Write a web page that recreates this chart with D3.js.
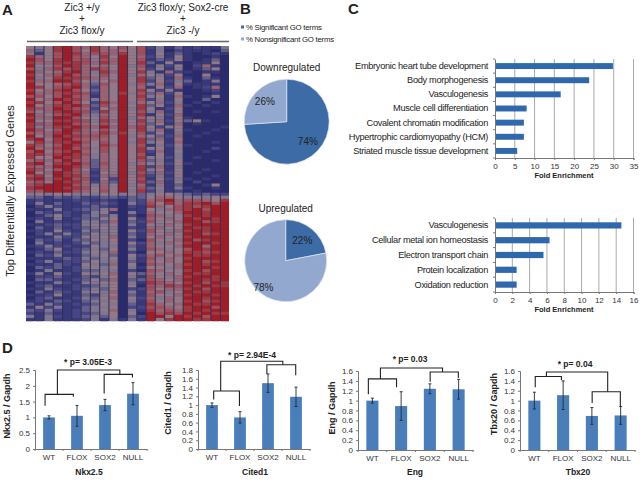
<!DOCTYPE html>
<html>
<head>
<meta charset="utf-8">
<script src="https://cdnjs.cloudflare.com/ajax/libs/d3/7.8.5/d3.min.js"></script>
<style>
  html, body { margin: 0; padding: 0; background: #fff; }
  svg { display: block; }
  text { font-family: "Liberation Sans", Arial, sans-serif; fill: #222; }
  .axis path, .axis line { stroke: #777; }
  .axis text { fill: #333; }
</style>
</head>
<body>
<svg width="640" height="480"></svg>
<script>
// heatmap, one string per gene, one digit per sample (0 = low, 9 = high)
var heatRows = [
  "5458976865757 2413 12114","6358975866657 1402 11103","4157986776857 1513 10121",
  "8657976585956 2415 10010","9758977476957 1325 10130","8668887686958 3151 01150",
  "9557986565947 1425 02610","7468786875956 2514 01350","9656896486958 4162 10110",
  "8567976575946 5425 00500","9458887665958 3516 10310","8669975456958 2524 30140",
  "9556786375947 4615 11110","9857896265956 1526 01260","8568975365958 5241 00120",
  "9667887265847 3625 00010","7757976165958 4516 10150","9569886465957 2415 00300",
  "8857975286946 5624 01010","9568897375958 3516 10100","8769876256948 5125 00000",
  "7568987385957 4615 01010","9657896465958 1526 00000","8669975575946 5415 10000",
  "9558887486958 4625 35100","8769976575957 3516 01000","8468897696968 5245 00001",
  "9757986575958 4615 10010","7668976686857 2514 00100","9569887775946 5326 01000",
  "8958976665958 3615 00000","5868897575948 4516 00010","8757986586957 1425 10000",
  "9668977475958 5514 00020","7957896575958 2615 00100","8868987465957 1514 00000",
  "8559886465958 4524 01000","6767976365957 3415 00010","8958897375946 5525 10000",
  "7669986365958 2614 00000","8757975265958 4515 00100","9569876154947 3625 01000",
  "7859886266958 2415 00010","8968977152957 1524 10100","6759886263958 3615 02000",
  "7899976465946 1413 00150","8999887565957 3514 10010","7799976575948 2412 01000",
  "4545545455453 4554 32322","3313232233233 5665 44454","1211122121032 6796 77658",
  "1413113232042 7586 88979","0242112321021 8657 87899","1114123346011 5467 89799",
  "0322212451041 6556 99899","0135213434020 7645 89899","1214123355051 6565 98989",
  "0412114436032 7556 99789","1123224545041 5465 89999","0313123454021 6655 98899",
  "1215214345052 7546 89899","0242423544031 6565 99789","1114225456041 5655 89999",
  "0323133545020 7556 97899","0412124345052 6465 89989","1242212544031 6556 99699",
  "0135123435041 7645 79899","1213224546020 5565 88789","0324113453052 6756 98899",
  "1112324345041 7465 89999","0241223544031 6565 99789","1113215436050 7656 89899",
  "0323124545041 5546 99989","0141123344020 7655 89799","1415215456053 6565 98899",
  "0223113245041 7546 89989","0332123536033 7656 99889","1114214455041 8765 89798",
  "0231122345050 7687 98988","1142123435022 7566 89799","0313214546041 6745 98899",
  "1125113245031 7556 89989","0231124356052 6465 99899","1213213445041 7565 89789",
  "3142122354031 8656 98899","1524113445022 7765 89979","3242123456041 8676 89899",
  "2131122345050 9787 98988","4142123435032 9959 89799","1141112414141 9589 98899"
];

var pieNames = ["Downregulated", "Upregulated"];
var pieSeries = ["% Significant GO terms", "% Nonsignificant GO terms"];
var downValues = [74, 26];
var upValues = [22, 78];

var goDownTerms = ["Embryonic heart tube development", "Body morphogenesis", "Vasculogenesis",
  "Muscle cell differentiation", "Covalent chromatin modification",
  "Hypertrophic cardiomyopathy (HCM)", "Striated muscle tissue development"];
var goDownValues = [29.8, 23.8, 16.6, 8, 7.3, 7.3, 5.6];
var goDownTicks = [0, 5, 10, 15, 20, 25, 30, 35];

var goUpTerms = ["Vasculogenesis", "Cellular metal ion homeostasis", "Electron transport chain",
  "Protein localization", "Oxidation reduction"];
var goUpValues = [14.6, 6.3, 5.6, 2.5, 2.5];
var goUpTicks = [0, 2, 4, 6, 8, 10, 12, 14, 16];

var genotypes = ["WT", "FLOX", "SOX2", "NULL"];

var nkxValues = [1, 1.05, 1.39, 1.75];
var nkxErrors = [0.05, 0.33, 0.18, 0.35];
var nkxTicks = [0, 0.5, 1, 1.5, 2, 2.5];
// brackets are [sample index, expression] polylines
var nkxBrackets = [
  [[-0.14, 1.37], [-0.14, 1.73], [0.87, 1.73], [0.87, 1.65]],
  [[0.3, 1.73], [0.3, 2.5], [2.53, 2.5], [2.53, 2.37]],
  [[1.97, 1.76], [1.97, 2.36], [2.98, 2.36], [2.98, 2.26]]
];

var citedValues = [1, 0.72, 1.5, 1.19];
var citedErrors = [0.05, 0.13, 0.21, 0.22];
var citedTicks = [0, 0.2, 0.4, 0.6, 0.8, 1, 1.2, 1.4, 1.6, 1.8];
var citedBrackets = [
  [[0.06, 1.13], [0.06, 1.32], [0.98, 1.32], [0.98, 0.98]],
  [[0.31, 1.32], [0.31, 2], [2.53, 2], [2.53, 1.92]],
  [[1.96, 1.71], [1.96, 1.92], [2.99, 1.92], [2.99, 1.68]]
];

var engValues = [1, 0.89, 1.24, 1.23];
var engErrors = [0.05, 0.29, 0.1, 0.2];
var engTicks = [0, 0.2, 0.4, 0.6, 0.8, 1, 1.2, 1.4, 1.6];
var engBrackets = [
  [[-0.14, 1.13], [-0.14, 1.44], [0.84, 1.44], [0.84, 1.27]],
  [[0.28, 1.44], [0.28, 1.66], [2.44, 1.66], [2.44, 1.58]],
  [[2.01, 1.38], [2.01, 1.58], [2.99, 1.58], [2.99, 1.46]]
];

var tbxValues = [1, 1.11, 0.69, 0.7];
var tbxErrors = [0.17, 0.29, 0.17, 0.18];
var tbxTicks = [0, 0.2, 0.4, 0.6, 0.8, 1, 1.2, 1.4, 1.6];
var tbxBrackets = [
  [[0.03, 1.27], [0.03, 1.49], [0.94, 1.49], [0.94, 1.42]],
  [[0.42, 1.49], [0.42, 1.58], [2.55, 1.58], [2.55, 1.18]],
  [[2.01, 0.95], [2.01, 1.18], [2.99, 1.18], [2.99, 0.89]]
];

var svg = d3.select("svg");

function addText(x, y, str, size, weight, anchor) {
  return svg.append("text")
    .attr("x", x)
    .attr("y", y)
    .attr("font-size", size)
    .attr("font-weight", weight || "normal")
    .attr("text-anchor", anchor || "middle")
    .text(str);
}

function addVertical(x, y, str, size, weight) {
  return svg.append("text")
    .attr("transform", "translate(" + x + "," + y + ") rotate(-90)")
    .attr("font-size", size)
    .attr("font-weight", weight || "normal")
    .attr("text-anchor", "middle")
    .text(str);
}

// panel letters
addText(2, 15, "A", 15, "bold", "start");
addText(240, 14, "B", 15, "bold", "start");
addText(348, 14, "C", 15, "bold", "start");
addText(2, 353, "D", 15, "bold", "start");

//Panel A
function drawHeatmap() {
  var rows = heatRows.map(function(r) { return r.replace(/ /g, "").split(""); });
  var xscale = d3.scaleBand().domain(d3.range(22)).range([26, 229]).paddingInner(0.12);
  var yscale = d3.scaleBand().domain(d3.range(rows.length)).range([46, 321]);
  var color = d3.scaleLinear()
    .domain([0, 2, 4.5, 7, 9])
    .range(["#2b2a70", "#474585", "#8d8494", "#a04f5e", "#a01f28"]);

  svg.append("filter").attr("id", "soft")
    .append("feGaussianBlur").attr("stdDeviation", 0.35);

  var map = svg.append("g").attr("filter", "url(#soft)");

  map.append("rect")
    .attr("x", 26).attr("y", 46)
    .attr("width", 203).attr("height", 275)
    .attr("fill", "#33304e");

  rows.forEach(function(row, r) {
    map.append("g").selectAll("rect")
      .data(row)
      .enter()
      .append("rect")
      .attr("x", function(d, c) { return xscale(c); })
      .attr("y", yscale(r))
      .attr("width", xscale.bandwidth())
      .attr("height", yscale.bandwidth() + 0.3)
      .attr("fill", function(d) { return color(+d); });
  });

  addText(82, 11, "Zic3 +/y", 10);
  addText(82, 22, "+", 10);
  addText(82, 34, "Zic3 flox/y", 10);
  addText(183, 11, "Zic3 flox/y; Sox2-cre", 10);
  addText(183, 22, "+", 10);
  addText(183, 34, "Zic3 -/y", 10);

  svg.append("line").attr("x1", 27).attr("x2", 133).attr("y1", 41.5).attr("y2", 41.5)
    .attr("stroke", "#666").attr("stroke-width", 1.5);
  svg.append("line").attr("x1", 137).attr("x2", 229).attr("y1", 41.5).attr("y2", 41.5)
    .attr("stroke", "#666").attr("stroke-width", 1.5);

  addVertical(14, 191, "Top Differentially Expressed Genes", 11);
}

//Panel B
function drawPie(values, name, cx, cy, radius, titleY, labelRadii) {
  var pie = d3.pie().sort(null)(values);
  var arc = d3.arc().innerRadius(0).outerRadius(radius);
  var colors = ["#3c6ba6", "#92a8cf"];
  var g = svg.append("g").attr("transform", "translate(" + cx + "," + cy + ")");

  g.selectAll("path")
    .data(pie)
    .enter()
    .append("path")
    .attr("d", arc)
    .attr("fill", function(d, i) { return colors[i]; })
    .attr("stroke", "#dfe6f2")
    .attr("stroke-width", 0.7);

  g.selectAll("text")
    .data(pie)
    .enter()
    .append("text")
    .attr("transform", function(d, i) {
      var c = d3.arc().innerRadius(labelRadii[i]).outerRadius(labelRadii[i]).centroid(d);
      return "translate(" + c[0] + "," + (c[1] + 3.5) + ")";
    })
    .attr("text-anchor", "middle")
    .attr("font-size", 10)
    .text(function(d) { return d.data + "%"; });

  addText(cx, titleY, name, 10);
}

function drawPieLegend() {
  var colors = ["#3c6ba6", "#92a8cf"];
  pieSeries.forEach(function(s, i) {
    svg.append("rect")
      .attr("x", 241).attr("y", 25.5 + i * 12)
      .attr("width", 3).attr("height", 3)
      .attr("fill", colors[i]);
    addText(246, 30 + i * 12, s, 7.8, "normal", "start")
      .attr("letter-spacing", -0.25);
  });
}

//Panel C
function drawEnrichment(terms, values, ticks, top, bottom) {
  var left = 495, right = 633.5;
  var xscale = d3.scaleLinear().domain([ticks[0], ticks[ticks.length - 1]]).range([left, right]);
  var yscale = d3.scaleBand().domain(terms).range([top, bottom]).paddingInner(0.58).paddingOuter(0.29);

  svg.append("g").selectAll("line")
    .data(ticks.slice(1))
    .enter()
    .append("line")
    .attr("x1", function(d) { return xscale(d); })
    .attr("x2", function(d) { return xscale(d); })
    .attr("y1", top)
    .attr("y2", bottom)
    .attr("stroke", "#aaa");

  svg.append("g").selectAll("rect")
    .data(terms)
    .enter()
    .append("rect")
    .attr("x", left)
    .attr("y", function(d) { return yscale(d); })
    .attr("width", function(d, i) { return xscale(values[i]) - left; })
    .attr("height", yscale.bandwidth())
    .attr("fill", "#2f68ad");

  var xaxis = d3.axisBottom(xscale).tickValues(ticks).tickSize(2).tickFormat(d3.format("d"));
  var yaxis = d3.axisLeft(yscale).tickSize(0).tickPadding(7);

  svg.append("g")
    .attr("class", "axis")
    .attr("transform", "translate(0," + bottom + ")")
    .call(xaxis)
    .selectAll("text")
    .attr("font-size", 8);

  var ya = svg.append("g")
    .attr("class", "axis")
    .attr("transform", "translate(" + left + ",0)")
    .call(yaxis);
  ya.selectAll("text")
    .attr("font-size", 9.2)
    .attr("letter-spacing", -0.3)
    .style("fill", "#222");

  // ticks sit between the categories
  ya.selectAll(".edge")
    .data(d3.range(terms.length + 1))
    .enter()
    .append("line")
    .attr("class", "edge")
    .attr("x1", -2)
    .attr("x2", 0)
    .attr("y1", function(i) { return top + i * yscale.step(); })
    .attr("y2", function(i) { return top + i * yscale.step(); });

  addText(564, bottom + 20, "Fold Enrichment", 7.5, "bold");
}

//Panel D
function drawExpression(opts) {
  var xscale = d3.scaleBand().domain(genotypes).range([opts.left, opts.right]).paddingInner(0.58).paddingOuter(0.29);
  var yscale = d3.scaleLinear().domain([0, opts.ticks[opts.ticks.length - 1]]).range([opts.base, opts.top]);
  var bw = xscale.bandwidth();
  var step = xscale.step();
  // sample index to pixel, for the brackets
  var xpos = function(i) { return xscale(genotypes[0]) + bw / 2 + i * step; };

  svg.append("g").selectAll("rect")
    .data(genotypes)
    .enter()
    .append("rect")
    .attr("x", function(d) { return xscale(d); })
    .attr("y", function(d, i) { return yscale(opts.values[i]); })
    .attr("width", bw)
    .attr("height", function(d, i) { return opts.base - yscale(opts.values[i]); })
    .attr("fill", "#4a7ebb");

  svg.append("g").selectAll("path")
    .data(genotypes)
    .enter()
    .append("path")
    .attr("d", function(d, i) {
      var cx = xscale(d) + bw / 2;
      var hi = yscale(opts.values[i] + opts.errors[i]);
      var lo = yscale(opts.values[i] - opts.errors[i]);
      return "M" + (cx - 1.5) + "," + hi + "H" + (cx + 1.5) + "M" + cx + "," + hi + "V" + lo +
        "M" + (cx - 1.5) + "," + lo + "H" + (cx + 1.5);
    })
    .attr("fill", "none")
    .attr("stroke", "#1c2a3a")
    .attr("stroke-width", 0.9);

  var line = d3.line()
    .x(function(d) { return xpos(d[0]); })
    .y(function(d) { return yscale(d[1]); });

  svg.append("g").selectAll("path")
    .data(opts.brackets)
    .enter()
    .append("path")
    .attr("d", line)
    .attr("fill", "none")
    .attr("stroke", "#222")
    .attr("stroke-width", 1.1);

  var yaxis = d3.axisLeft(yscale).tickValues(opts.ticks).tickSize(2).tickPadding(3).tickFormat(function(d) { return String(d); });
  var xaxis = d3.axisBottom(xscale).tickSize(0).tickPadding(5);

  svg.append("g")
    .attr("class", "axis")
    .attr("transform", "translate(" + opts.left + ",0)")
    .call(yaxis)
    .selectAll("text")
    .attr("font-size", 8);

  var xa = svg.append("g")
    .attr("class", "axis")
    .attr("transform", "translate(0," + opts.base + ")")
    .call(xaxis);
  xa.selectAll("text").attr("font-size", 8);
  xa.selectAll(".edge")
    .data(d3.range(5))
    .enter()
    .append("line")
    .attr("class", "edge")
    .attr("x1", function(i) { return opts.left + i * step; })
    .attr("x2", function(i) { return opts.left + i * step; })
    .attr("y1", 0)
    .attr("y2", 2);

  addText(opts.pX, opts.pY, opts.pLabel, 8.5, "bold");
  addText(opts.titleX, 475, opts.gene, 8.5, "bold");
  addVertical(opts.yTitleX, opts.yTitleY, opts.gene + " / Gapdh", 9, "bold");
}

drawHeatmap();
drawPieLegend();
drawPie(downValues, pieNames[0], 286.7, 121.7, 42.5, 71, [29, 30]);
drawPie(upValues, pieNames[1], 285.7, 260.7, 41, 212, [26, 35]);
drawEnrichment(goDownTerms, goDownValues, goDownTicks, 59, 158);
drawEnrichment(goUpTerms, goUpValues, goUpTicks, 218, 292);

drawExpression({ gene: "Nkx2.5", values: nkxValues, errors: nkxErrors, ticks: nkxTicks, brackets: nkxBrackets,
  left: 35, right: 147, top: 370, base: 449, pLabel: "* p= 3.05E-3", pX: 88, pY: 365, titleX: 89, yTitleX: 10, yTitleY: 406 });
drawExpression({ gene: "Cited1", values: citedValues, errors: citedErrors, ticks: citedTicks, brackets: citedBrackets,
  left: 198, right: 310, top: 370, base: 449, pLabel: "* p= 2.94E-4", pX: 252, pY: 358, titleX: 255, yTitleX: 171, yTitleY: 403 });
drawExpression({ gene: "Eng", values: engValues, errors: engErrors, ticks: engTicks, brackets: engBrackets,
  left: 358, right: 473, top: 371, base: 450, pLabel: "* p= 0.03", pX: 410, pY: 362, titleX: 415, yTitleX: 335, yTitleY: 408 });
drawExpression({ gene: "Tbx20", values: tbxValues, errors: tbxErrors, ticks: tbxTicks, brackets: tbxBrackets,
  left: 520, right: 635, top: 371, base: 450, pLabel: "* p= 0.04", pX: 575, pY: 367, titleX: 578, yTitleX: 497, yTitleY: 404 });
</script>
</body>
</html>
